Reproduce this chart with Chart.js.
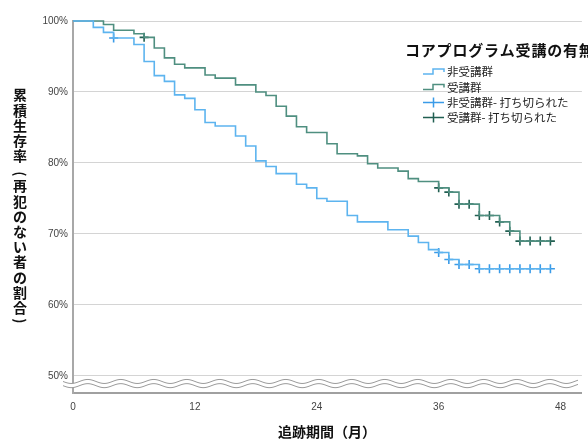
<!DOCTYPE html>
<html><head><meta charset="utf-8">
<script src="https://cdn.jsdelivr.net/npm/chart.js@4.4.1/dist/chart.umd.min.js"></script>
<style>html,body{margin:0;padding:0;background:#fff;overflow:hidden}</style>
</head><body>
<canvas id="c" width="588" height="440"></canvas>
<script>
// Kaplan–Meier step values (month, cumulative survival %)
const blueMonths = [0, 2, 3, 4, 6, 7, 8, 9, 10, 11, 12, 13, 14, 16, 17, 18, 19, 20, 22, 23, 24, 25, 27, 28, 31, 33, 34, 35, 36, 37, 38, 40, 47];
const blueSurv   = [100, 99.1, 98.4, 97.6, 96.7, 94.3, 92.3, 91.5, 89.6, 89.1, 87.5, 85.7, 85.2, 83.8, 82.4, 80.3, 79.5, 78.5, 77.0, 76.5, 75.0, 74.6, 72.6, 71.7, 70.6, 69.7, 68.8, 67.8, 67.4, 66.4, 65.7, 65.1, 65.1];
const blueCensorMonths = [4, 36, 37, 38, 39, 40, 41, 42, 43, 44, 45, 46, 47];
const blueCensorSurv   = [97.6, 67.4, 66.4, 65.7, 65.7, 65.1, 65.1, 65.1, 65.1, 65.1, 65.1, 65.1, 65.1];

const greenMonths = [0, 3, 4, 6, 7, 8, 9, 10, 11, 13, 14, 16, 18, 19, 20, 21, 22, 23, 25, 26, 28, 29, 30, 32, 33, 34, 36, 37, 38, 40, 42, 43, 44, 47];
const greenSurv   = [100, 99.5, 98.7, 98.2, 97.7, 96.2, 94.8, 93.9, 93.4, 92.4, 91.95, 91.0, 90.0, 89.5, 88.0, 86.6, 85.1, 84.3, 82.7, 81.3, 81.0, 79.9, 79.3, 78.85, 77.8, 77.4, 76.5, 75.9, 74.2, 72.6, 71.7, 70.4, 69.0, 69.0];
const greenCensorMonths = [7, 36, 37, 38, 39, 40, 41, 42, 43, 44, 45, 46, 47];
const greenCensorSurv   = [97.7, 76.5, 75.9, 74.2, 74.2, 72.6, 72.6, 71.7, 70.4, 69.0, 69.0, 69.0, 69.0];

const xTicks = [0, 12, 24, 36, 48];
const yTicks = [50, 60, 70, 80, 90, 100];

const legendTitle = 'コアプログラム受講の有無';
const legendLabels = ['非受講群', '受講群', '非受講群- 打ち切られた', '受講群- 打ち切られた'];
const xTitle = '追跡期間（月）';
const yTitle = '累積生存率（再犯のない者の割合）';

const BLUE = '#5db4ef', GREEN = '#4f8f80', BLUE_C = '#3a9be8', GREEN_C = '#215f52';

const pts = (xs, ys) => xs.map((x, i) => ({x, y: ys[i]}));

const overlay = {
  id: 'overlay',
  afterDraw(chart) {
    const ctx = chart.ctx;
    const ys = chart.scales.y;
    // axis break
    const y0 = ys.getPixelForValue(50) + 5.5, gap = 4.2, amp = 2, per = 33, x0 = 63, x1 = 578;
    ctx.save();
    ctx.beginPath();
    for (let x = x0; x <= x1; x += 1) { const y = y0 + amp * Math.sin((x - x0) / per * 2 * Math.PI); x === x0 ? ctx.moveTo(x, y) : ctx.lineTo(x, y); }
    for (let x = x1; x >= x0; x -= 1) { const y = y0 + gap + amp * Math.sin((x - x0) / per * 2 * Math.PI); ctx.lineTo(x, y); }
    ctx.closePath(); ctx.fillStyle = '#fff'; ctx.fill();
    ctx.strokeStyle = '#9a9a9a'; ctx.lineWidth = 1;
    for (const off of [0, gap]) {
      ctx.beginPath();
      for (let x = x0; x <= x1; x += 1) { const y = y0 + off + amp * Math.sin((x - x0) / per * 2 * Math.PI); x === x0 ? ctx.moveTo(x, y) : ctx.lineTo(x, y); }
      ctx.stroke();
    }
    // x title
    ctx.fillStyle = '#111';
    ctx.font = 'bold 14px "Noto Sans CJK JP"';
    ctx.textAlign = 'center'; ctx.textBaseline = 'middle';
    ctx.fillText(xTitle, 327, 432);
    // y title, vertical
    const chars = Array.from(yTitle);
    let cy = 95;
    chars.forEach(ch => {
      if (ch === '（' || ch === '）') {
        const yy = ch === '（' ? cy + 3 : cy - 2;
        ctx.save(); ctx.translate(20, yy); ctx.rotate(Math.PI / 2);
        ctx.fillText(ch === '（' ? '(' : ')', 0, 0); ctx.restore();
        cy += 15;
      } else {
        ctx.fillText(ch, 20, cy); cy += 15.2;
      }
    });
    // legend
    ctx.textAlign = 'left';
    ctx.font = 'bold 15px "Noto Sans CJK JP"';
    ctx.letterSpacing = '0.8px';
    ctx.fillStyle = '#111';
    ctx.fillText(legendTitle, 405, 50);
    ctx.letterSpacing = '0px';
    ctx.font = '11.5px "Noto Sans CJK JP"';
    const ly = [72, 87.5, 102.5, 117.5];
    const cols = [BLUE, GREEN, BLUE_C, GREEN_C];
    ly.forEach((y, i) => {
      ctx.strokeStyle = cols[i]; ctx.lineWidth = 1.5;
      ctx.beginPath();
      if (i < 2) {
        ctx.moveTo(423, y + 2); ctx.lineTo(433, y + 2); ctx.lineTo(433, y - 3); ctx.lineTo(444, y - 3); ctx.lineTo(444, y);
      } else {
        ctx.moveTo(423, y); ctx.lineTo(444, y); ctx.moveTo(433.5, y - 5); ctx.lineTo(433.5, y + 5);
      }
      ctx.stroke();
      ctx.fillStyle = '#222';
      ctx.fillText(legendLabels[i], 447, y);
    });
    ctx.restore();
  }
};

new Chart(document.getElementById('c'), {
  type: 'line',
  data: {
    datasets: [
      {label: legendLabels[0], data: pts(blueMonths, blueSurv), stepped: true, borderColor: BLUE, borderWidth: 1.6, pointRadius: 0, fill: false, clip: 6},
      {label: legendLabels[1], data: pts(greenMonths, greenSurv), stepped: true, borderColor: GREEN, borderWidth: 1.6, pointRadius: 0, fill: false, clip: 6},
      {label: legendLabels[2], data: pts(blueCensorMonths, blueCensorSurv), showLine: false, pointStyle: 'cross', pointRadius: 4.5, borderColor: BLUE_C, borderWidth: 1.6, clip: 6},
      {label: legendLabels[3], data: pts(greenCensorMonths, greenCensorSurv), showLine: false, pointStyle: 'cross', pointRadius: 4.5, borderColor: GREEN_C, borderWidth: 1.6, clip: 6}
    ]
  },
  options: {
    responsive: false, animation: false,
    layout: {padding: {top: 21, left: 0, right: 0, bottom: 0}},
    plugins: {legend: {display: false}, tooltip: {enabled: false}},
    scales: {
      x: {
        type: 'linear', min: 0, max: 50.1,
        afterFit: s => { s.height = 47; },
        afterBuildTicks: s => { s.ticks = xTicks.map(v => ({value: v})); },
        grid: {display: false, drawTicks: false},
        border: {display: true, color: '#a0a0a0', width: 2},
        ticks: {padding: 8, color: '#444', font: {family: '"Liberation Sans", Arial', size: 10}, maxRotation: 0}
      },
      y: {
        min: 47.6, max: 100,
        afterFit: s => { s.width = 73; },
        afterBuildTicks: s => { s.ticks = yTicks.map(v => ({value: v})); },
        grid: {color: '#d4d4d4', lineWidth: 1, drawTicks: false},
        border: {display: true, color: '#a8a8a8', width: 2},
        ticks: {padding: 5, color: '#444', font: {family: '"Liberation Sans", Arial', size: 10}, callback: v => v + '%'}
      }
    }
  },
  plugins: [overlay]
});
</script>
</body></html>
